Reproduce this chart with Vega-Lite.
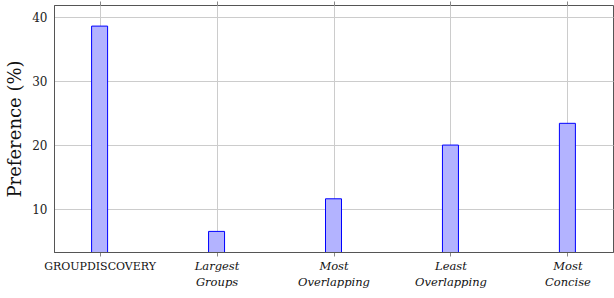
{
  "$schema": "https://vega.github.io/schema/vega-lite/v6.json",
  "width": 559,
  "height": 247,
  "autosize": {"type": "none"},
  "padding": {"left": 54, "top": 5, "right": 1, "bottom": 46},
  "background": "white",
  "config": {
    "view": {"stroke": "#555555", "strokeWidth": 1},
    "font": "DejaVu Serif"
  },
  "data": {
    "values": [
      {"method": "GroupDiscovery", "preference": 38.6},
      {"method": "Largest Groups", "preference": 6.5},
      {"method": "Most Overlapping", "preference": 11.6},
      {"method": "Least Overlapping", "preference": 20.0},
      {"method": "Most Concise", "preference": 23.4}
    ]
  },
  "resolve": {"axis": {"x": "independent"}},
  "layer": [
    {
      "mark": {"type": "bar", "width": 16, "fill": "#b3b3ff", "stroke": "#0000ff", "strokeWidth": 1, "clip": true},
      "encoding": {
        "x": {
          "field": "method",
          "type": "nominal",
          "sort": null,
          "scale": {"type": "point", "padding": 0.39},
          "axis": {
            "title": null,
            "labelAngle": 0,
            "labelFont": "DejaVu Serif",
            "labelExpr": "datum.label == 'GroupDiscovery' ? 'GROUPDISCOVERY' : split(datum.label, ' ')",
            "labelFontStyle": {"condition": {"test": "datum.value == 'GroupDiscovery'", "value": "normal"}, "value": "italic"},
            "labelFontSize": {"condition": {"test": "datum.value == 'GroupDiscovery'", "value": 11}, "value": 11.5},
            "labelColor": "#111111",
            "labelLineHeight": 16,
            "labelPadding": 4,
            "tickSize": 4,
            "tickColor": "#888888",
            "domainColor": "#555555",
            "grid": true,
            "gridColor": "#cccccc",
            "labelOverlap": false
          }
        },
        "y": {
          "field": "preference",
          "type": "quantitative",
          "scale": {"domain": [3.28, 41.9], "nice": false, "zero": false},
          "axis": {
            "title": "Preference (%)",
            "titleFont": "DejaVu Serif",
            "titleFontSize": 18,
            "titleFontWeight": "normal",
            "titleColor": "#111111",
            "titlePadding": 7,
            "values": [10, 20, 30, 40],
            "labelFont": "DejaVu Serif",
            "labelFontSize": 12,
            "labelColor": "#222222",
            "labelPadding": 7,
            "ticks": false,
            "domainColor": "#555555",
            "grid": true,
            "gridColor": "#cccccc"
          }
        }
      }
    },
    {
      "mark": {"type": "point", "opacity": 0},
      "encoding": {
        "x": {
          "field": "method",
          "type": "nominal",
          "sort": null,
          "axis": {"orient": "top", "title": null, "labels": false, "grid": false, "domain": false, "tickSize": 4, "tickColor": "#888888"}
        },
        "y": {"field": "preference", "type": "quantitative"}
      }
    }
  ]
}
